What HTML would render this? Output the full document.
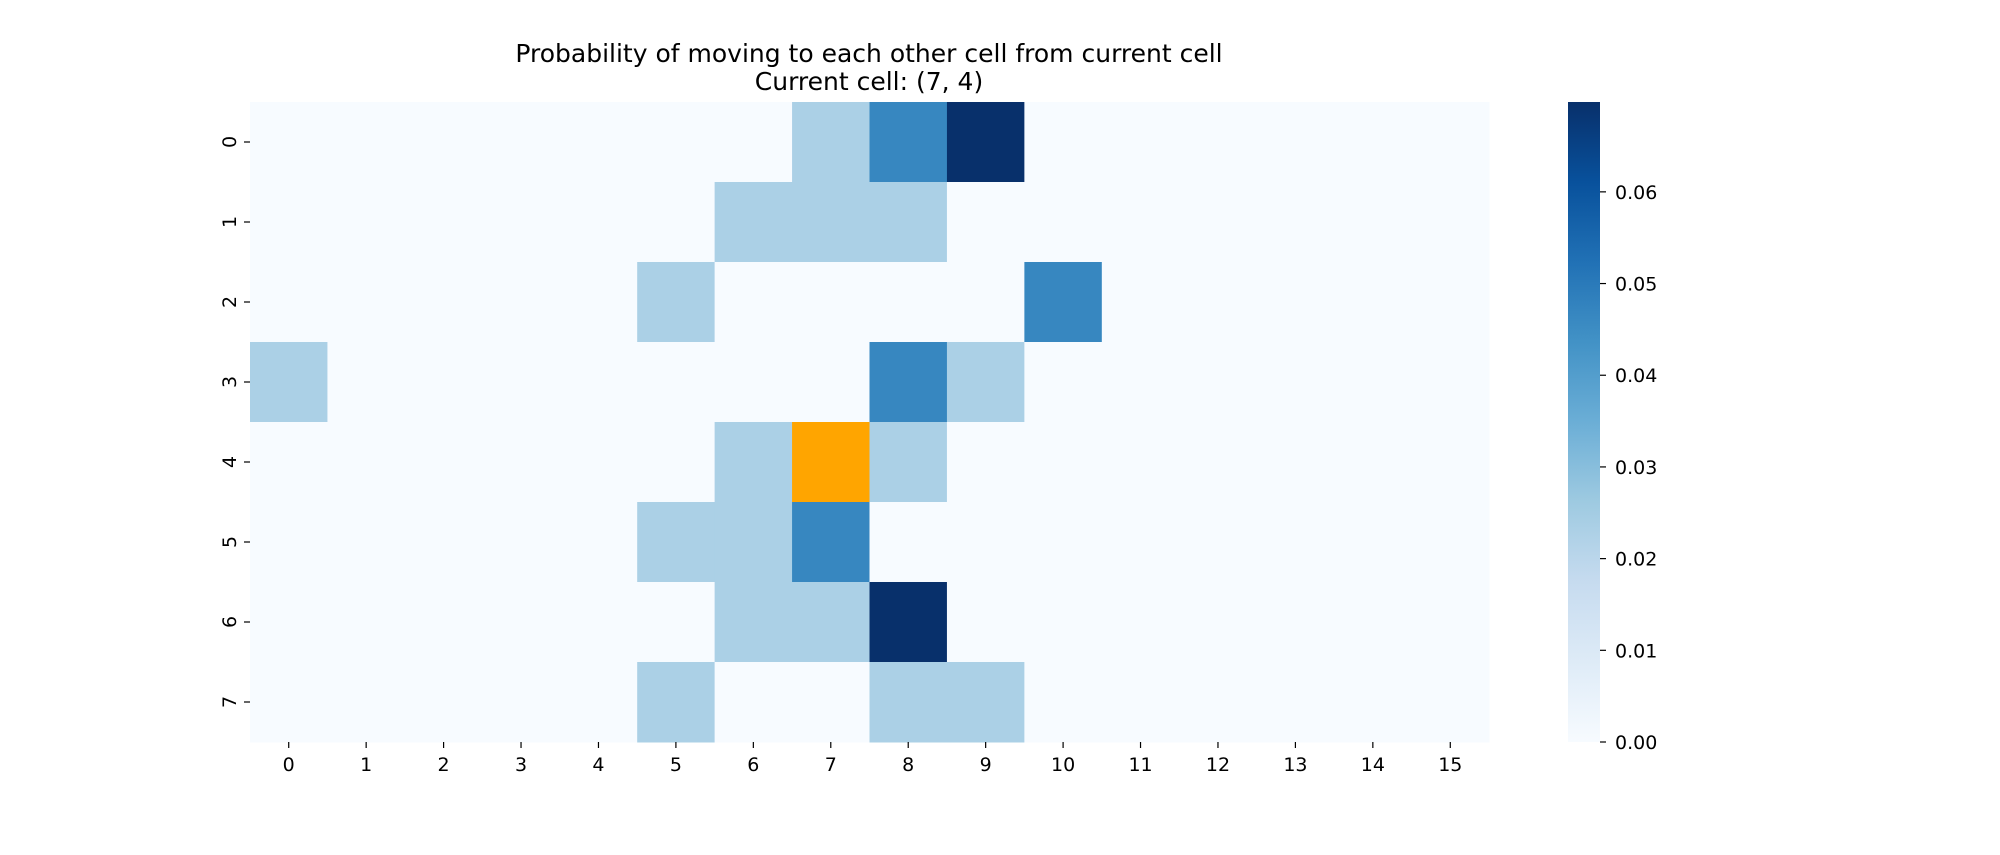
<!DOCTYPE html>
<html><head><meta charset="utf-8"><style>
html,body{margin:0;padding:0;background:#fff;}
svg text{font-family:"DejaVu Sans","Liberation Sans",sans-serif;fill:#000;}
</style></head><body>
<svg id="chart" width="2000" height="850" xmlns="http://www.w3.org/2000/svg">
<text x="869" y="62" font-size="25" text-anchor="middle">Probability of moving to each other cell from current cell</text>
<text x="869" y="90" font-size="25" text-anchor="middle">Current cell: (7, 4)</text>
<defs><linearGradient id="blues" x1="0" y1="1" x2="0" y2="0">
<stop offset="0" stop-color="#f7fbff"/><stop offset="0.125" stop-color="#deebf7"/><stop offset="0.25" stop-color="#c6dbef"/><stop offset="0.375" stop-color="#9ecae1"/><stop offset="0.5" stop-color="#6baed6"/><stop offset="0.625" stop-color="#4292c6"/><stop offset="0.75" stop-color="#2171b5"/><stop offset="0.875" stop-color="#08519c"/><stop offset="1" stop-color="#08306b"/>
</linearGradient></defs>
<g id="cells"></g><g id="xaxis"></g><g id="yaxis"></g><g id="cbar"></g>
</svg>
<script>
const rowLabels=[0,1,2,3,4,5,6,7];
const colLabels=[0,1,2,3,4,5,6,7,8,9,10,11,12,13,14,15];
const L=0.0233, M=0.0465, D=0.0698;
const values=[
[0,0,0,0,0,0,0,L,M,D,0,0,0,0,0,0],
[0,0,0,0,0,0,L,L,L,0,0,0,0,0,0,0],
[0,0,0,0,0,L,0,0,0,0,M,0,0,0,0,0],
[L,0,0,0,0,0,0,0,M,L,0,0,0,0,0,0],
[0,0,0,0,0,0,L,0,L,0,0,0,0,0,0,0],
[0,0,0,0,0,L,L,M,0,0,0,0,0,0,0,0],
[0,0,0,0,0,0,L,L,D,0,0,0,0,0,0,0],
[0,0,0,0,0,L,0,0,L,L,0,0,0,0,0,0]];
const currentCell=[7,4];
const cbTicks=[0,0.01,0.02,0.03,0.04,0.05,0.06];
const vmax=0.0698;
const X0=250,X1=1489,Y0=102,Y1=742;
const cw=(X1-X0)/colLabels.length, ch=(Y1-Y0)/rowLabels.length;
const xs=c=>X0+c*cw, ys=r=>Y0+r*ch;
const stops=["#f7fbff","#deebf7","#c6dbef","#9ecae1","#6baed6","#4292c6","#2171b5","#08519c","#08306b"];
function color(v){let t=Math.max(0,Math.min(1,v/vmax))*8;let i=Math.min(7,Math.floor(t)),f=t-i;
const a=stops[i],b=stops[i+1];const p=(h,k)=>parseInt(h.substr(1+2*k,2),16);
return "rgb("+[0,1,2].map(k=>Math.round(p(a,k)+(p(b,k)-p(a,k))*f)).join(",")+")";}
const NS="http://www.w3.org/2000/svg";
function mk(t,at,parent){const e=document.createElementNS(NS,t);for(const k in at)e.setAttribute(k,at[k]);document.getElementById(parent).appendChild(e);return e;}
values.forEach((row,r)=>row.forEach((v,c)=>{
const cur=(c===currentCell[0]&&r===currentCell[1]);
const e=mk("rect",{x:xs(c),y:ys(r),width:cw+0.5,height:ch+0.5,fill:cur?"#ffa500":color(v)},"cells");


}));
colLabels.forEach((l,c)=>{const x=xs(c)+cw/2;
mk("line",{x1:x,x2:x,y1:Y1,y2:Y1+6,stroke:"#000","stroke-width":1.2},"xaxis");
const t=mk("text",{x:x,y:Y1+29,"font-size":19,"text-anchor":"middle"},"xaxis");t.textContent=l;

});
rowLabels.forEach((l,r)=>{const y=ys(r)+ch/2;
mk("line",{x1:X0-6,x2:X0,y1:y,y2:y,stroke:"#000","stroke-width":1.2},"yaxis");
const t=mk("text",{x:0,y:0,"font-size":19,"text-anchor":"middle",transform:"translate("+(X0-14)+","+y+") rotate(-90)"},"yaxis");t.textContent=l;

});
const cb=mk("rect",{x:1568,y:Y0,width:32,height:Y1-Y0,fill:"url(#blues)"},"cbar");


cbTicks.forEach(v=>{const y=Y1-(v/vmax)*(Y1-Y0);
mk("line",{x1:1600,x2:1606,y1:y,y2:y,stroke:"#000","stroke-width":1.2},"cbar");
const t=mk("text",{x:1615,y:y+7,"font-size":19},"cbar");t.textContent=v.toFixed(2);

});
</script>
</body></html>
